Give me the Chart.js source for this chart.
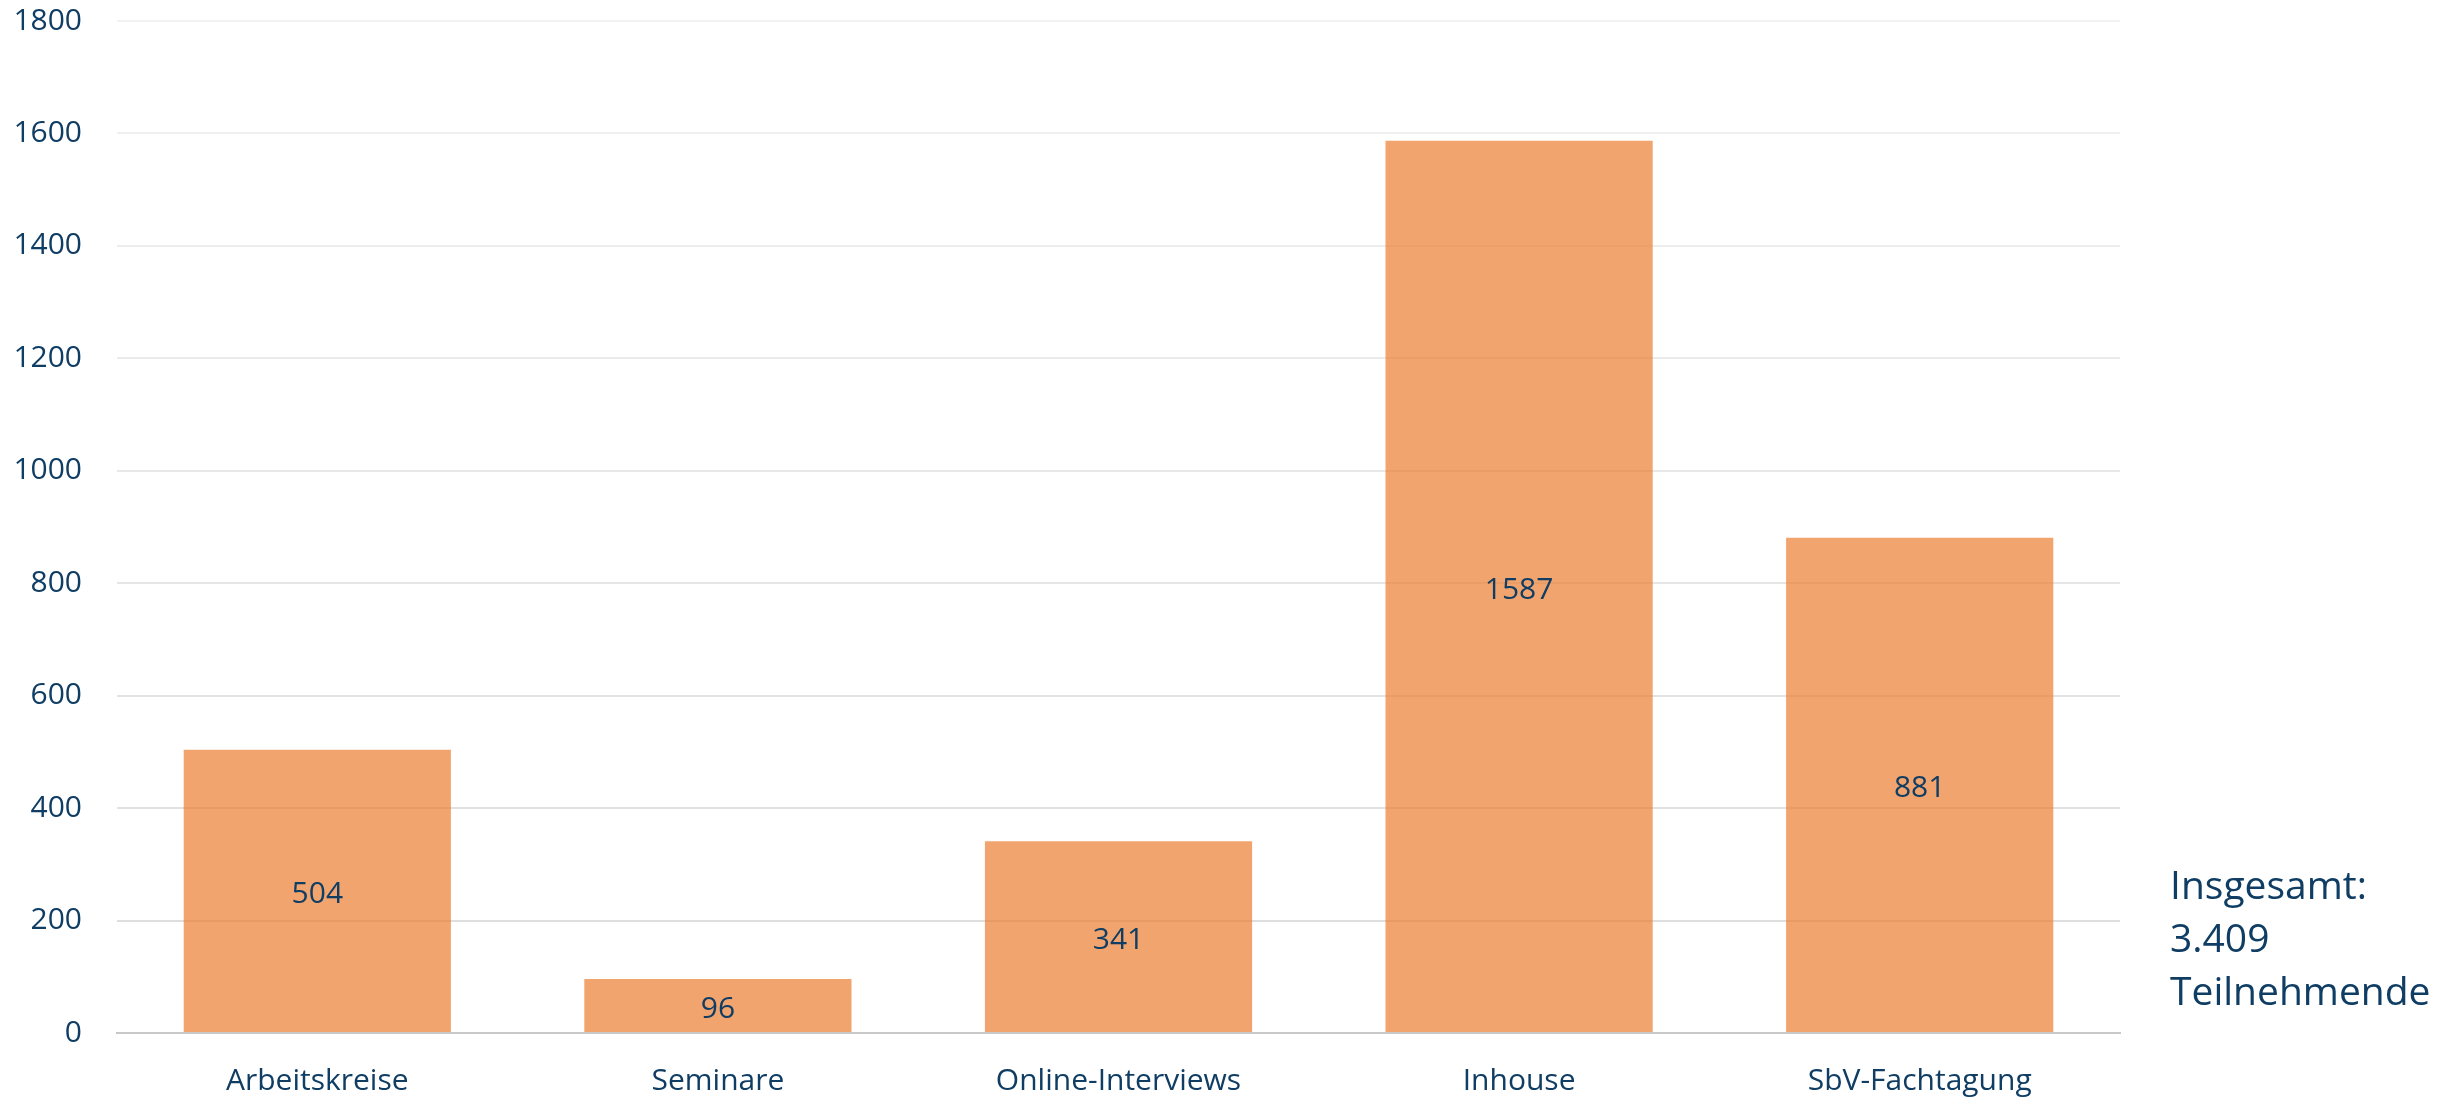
<!DOCTYPE html>
<html>
<head>
<meta charset="utf-8">
<script src="https://cdn.jsdelivr.net/npm/chart.js@4"></script>
<style>
  html, body { margin: 0; padding: 0; background: #fff; }
  canvas { display: block; }
</style>
</head>
<body>
<canvas id="teilnehmerChart" width="2448" height="1099"></canvas>
<script>
// Data
const categories = ['Arbeitskreise', 'Seminare', 'Online-Interviews', 'Inhouse', 'SbV-Fachtagung'];
const participants = [504, 96, 341, 1587, 881];
const totalLines = ['Insgesamt:', '3.409', 'Teilnehmende'];

const textColor = '#0f3d63';
const fontFamily = "'Open Sans', 'Noto Sans', sans-serif";

Chart.defaults.color = textColor;
Chart.defaults.font.family = fontFamily;

// Value labels centered inside each bar
const barLabels = {
    id: 'barLabels',
    afterDatasetsDraw(chart) {
        const { ctx } = chart;
        const meta = chart.getDatasetMeta(0);
        ctx.save();
        ctx.font = '30px ' + fontFamily;
        ctx.fillStyle = textColor;
        ctx.textAlign = 'center';
        ctx.textBaseline = 'middle';
        meta.data.forEach((bar, i) => {
            const mid = (bar.y + bar.base) / 2 + 4; // digits sit a bit high on 'middle'
            ctx.fillText(String(participants[i]), bar.x, mid);
        });
        ctx.restore();
    }
};

// Total text to the right of the plot
const totalNote = {
    id: 'totalNote',
    afterDraw(chart) {
        const { ctx, chartArea } = chart;
        ctx.save();
        ctx.font = '39px ' + fontFamily;
        ctx.fillStyle = textColor;
        ctx.textAlign = 'left';
        ctx.textBaseline = 'middle';
        const x = chartArea.right + 50;
        const yStart = chartArea.bottom - 145;
        totalLines.forEach((line, i) => {
            ctx.fillText(line, x, yStart + i * 53);
        });
        ctx.restore();
    }
};

const ctx = document.getElementById('teilnehmerChart').getContext('2d');

new Chart(ctx, {
    type: 'bar',
    data: {
        labels: categories,
        datasets: [{
            data: participants,
            backgroundColor: 'rgba(237, 125, 49, 0.7)',
            borderWidth: 0,
            barPercentage: 0.667,
            categoryPercentage: 1
        }]
    },
    options: {
        responsive: false,
        devicePixelRatio: 1,
        animation: false,
        layout: {
            padding: { top: 20, right: 328, bottom: 0, left: 0 }
        },
        plugins: {
            legend: { display: false },
            tooltip: { enabled: false }
        },
        scales: {
            x: {
                afterFit(scale) { scale.height = 66; },
                grid: { display: false, drawTicks: false },
                border: { display: true, color: '#c8c8c8', width: 2 },
                ticks: {
                    padding: 30,
                    color: textColor,
                    font: { size: 30 }
                }
            },
            y: {
                min: 0,
                max: 1800,
                afterFit(scale) { scale.width = 117; },
                grid: {
                    drawTicks: true,
                    tickLength: 32,
                    tickColor: 'rgba(0, 0, 0, 0)',
                    // lines get a bit lighter toward the top
                    color: (c) => {
                        const g = Math.round(220 + (c.tick.value / 1800) * 22);
                        return `rgb(${g}, ${g}, ${g})`;
                    },
                    lineWidth: 2
                },
                border: { display: false },
                ticks: {
                    stepSize: 200,
                    padding: 3,
                    color: textColor,
                    font: { size: 30 },
                    callback: (v) => String(v)
                }
            }
        }
    },
    plugins: [barLabels, totalNote]
});
</script>
</body>
</html>
